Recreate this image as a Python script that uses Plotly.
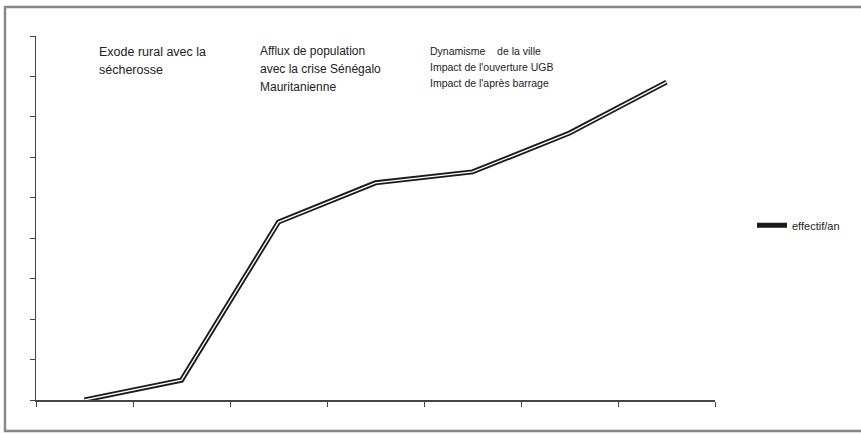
import plotly.graph_objects as go

categories = ["1", "2", "3", "4", "5", "6", "7"]
effectif = [0.0, 0.49, 4.40, 5.37, 5.64, 6.60, 7.86]
series_name = "effectif/an"
notes_1 = ["Exode rural avec la", "sécherosse"]
notes_2 = ["Afflux de population", "avec la crise Sénégalo", "Mauritanienne"]
notes_3 = ["Dynamisme&nbsp;&nbsp;&nbsp;&nbsp;de la ville", "Impact de l'ouverture UGB",
           "Impact de l'après barrage"]

xs = list(range(len(categories)))

fig = go.Figure()
fig.add_trace(go.Scatter(x=xs, y=effectif, mode="lines", name=series_name,
                         line=dict(color="#1a1a1a", width=5), showlegend=True))
fig.add_trace(go.Scatter(x=xs, y=effectif, mode="lines", name=series_name,
                         line=dict(color="white", width=1.3), showlegend=False,
                         hoverinfo="skip"))

W, H = 861, 434
L, R, T, B = 36, 715, 36, 400

fig.update_layout(
    width=W, height=H,
    margin=dict(l=L, r=W - R, t=T, b=H - B, pad=0),
    paper_bgcolor="white", plot_bgcolor="white",
    font=dict(family="Liberation Sans, Arial, sans-serif", color="#222"),
    showlegend=True,
    legend=dict(x=(752 - L) / (R - L), y=0.48, xanchor="left", yanchor="middle",
                font=dict(size=11, family="Liberation Sans Narrow, Liberation Sans, Arial",
                          color="#222"),
                itemwidth=30, bgcolor="rgba(0,0,0,0)", tracegroupgap=0),
    xaxis=dict(range=[-0.5, len(categories) - 0.5], tickmode="array",
               tickvals=[i - 0.5 for i in range(len(categories) + 1)],
               showticklabels=False, ticks="outside", ticklen=5, tickcolor="#444",
               showline=True, linecolor="#444", linewidth=1.5, showgrid=False,
               zeroline=False, fixedrange=True),
    yaxis=dict(range=[0, 9], dtick=1, tick0=0, showticklabels=False,
               ticks="outside", ticklen=5, tickcolor="#444",
               showline=True, linecolor="#444", linewidth=1.5, showgrid=False,
               zeroline=False, fixedrange=True),
)

def px(x, y):
    return (x - L) / (R - L), (B - y) / (B - T)

blocks = [
    (97, [52, 70], notes_1, 12.5, "Liberation Sans, Arial"),
    (258, [51, 69, 87], notes_2, 12, "Liberation Sans, Arial"),
    (428, [51, 67, 83], notes_3, 10.5, "Liberation Sans Narrow, Liberation Sans, Arial"),
]
for x, ys, lines, size, fam in blocks:
    for y, txt in zip(ys, lines):
        ax, ay = px(x, y)
        fig.add_annotation(x=ax, y=ay, xref="paper", yref="paper", text=txt,
                           showarrow=False, xanchor="left", yanchor="middle", align="left",
                           font=dict(size=size, family=fam, color="#222"))

# outer chart border
fig.add_shape(type="rect", xref="paper", yref="paper",
              x0=px(5, 0)[0], x1=px(880, 0)[0], y0=px(0, 431)[1], y1=px(0, 7)[1],
              line=dict(color="#888", width=2.5), fillcolor="rgba(0,0,0,0)")

fig.write_html("out.html", config={"displayModeBar": False, "staticPlot": True},
               post_script="document.body.style.margin='0px';document.body.style.overflow='hidden';")
